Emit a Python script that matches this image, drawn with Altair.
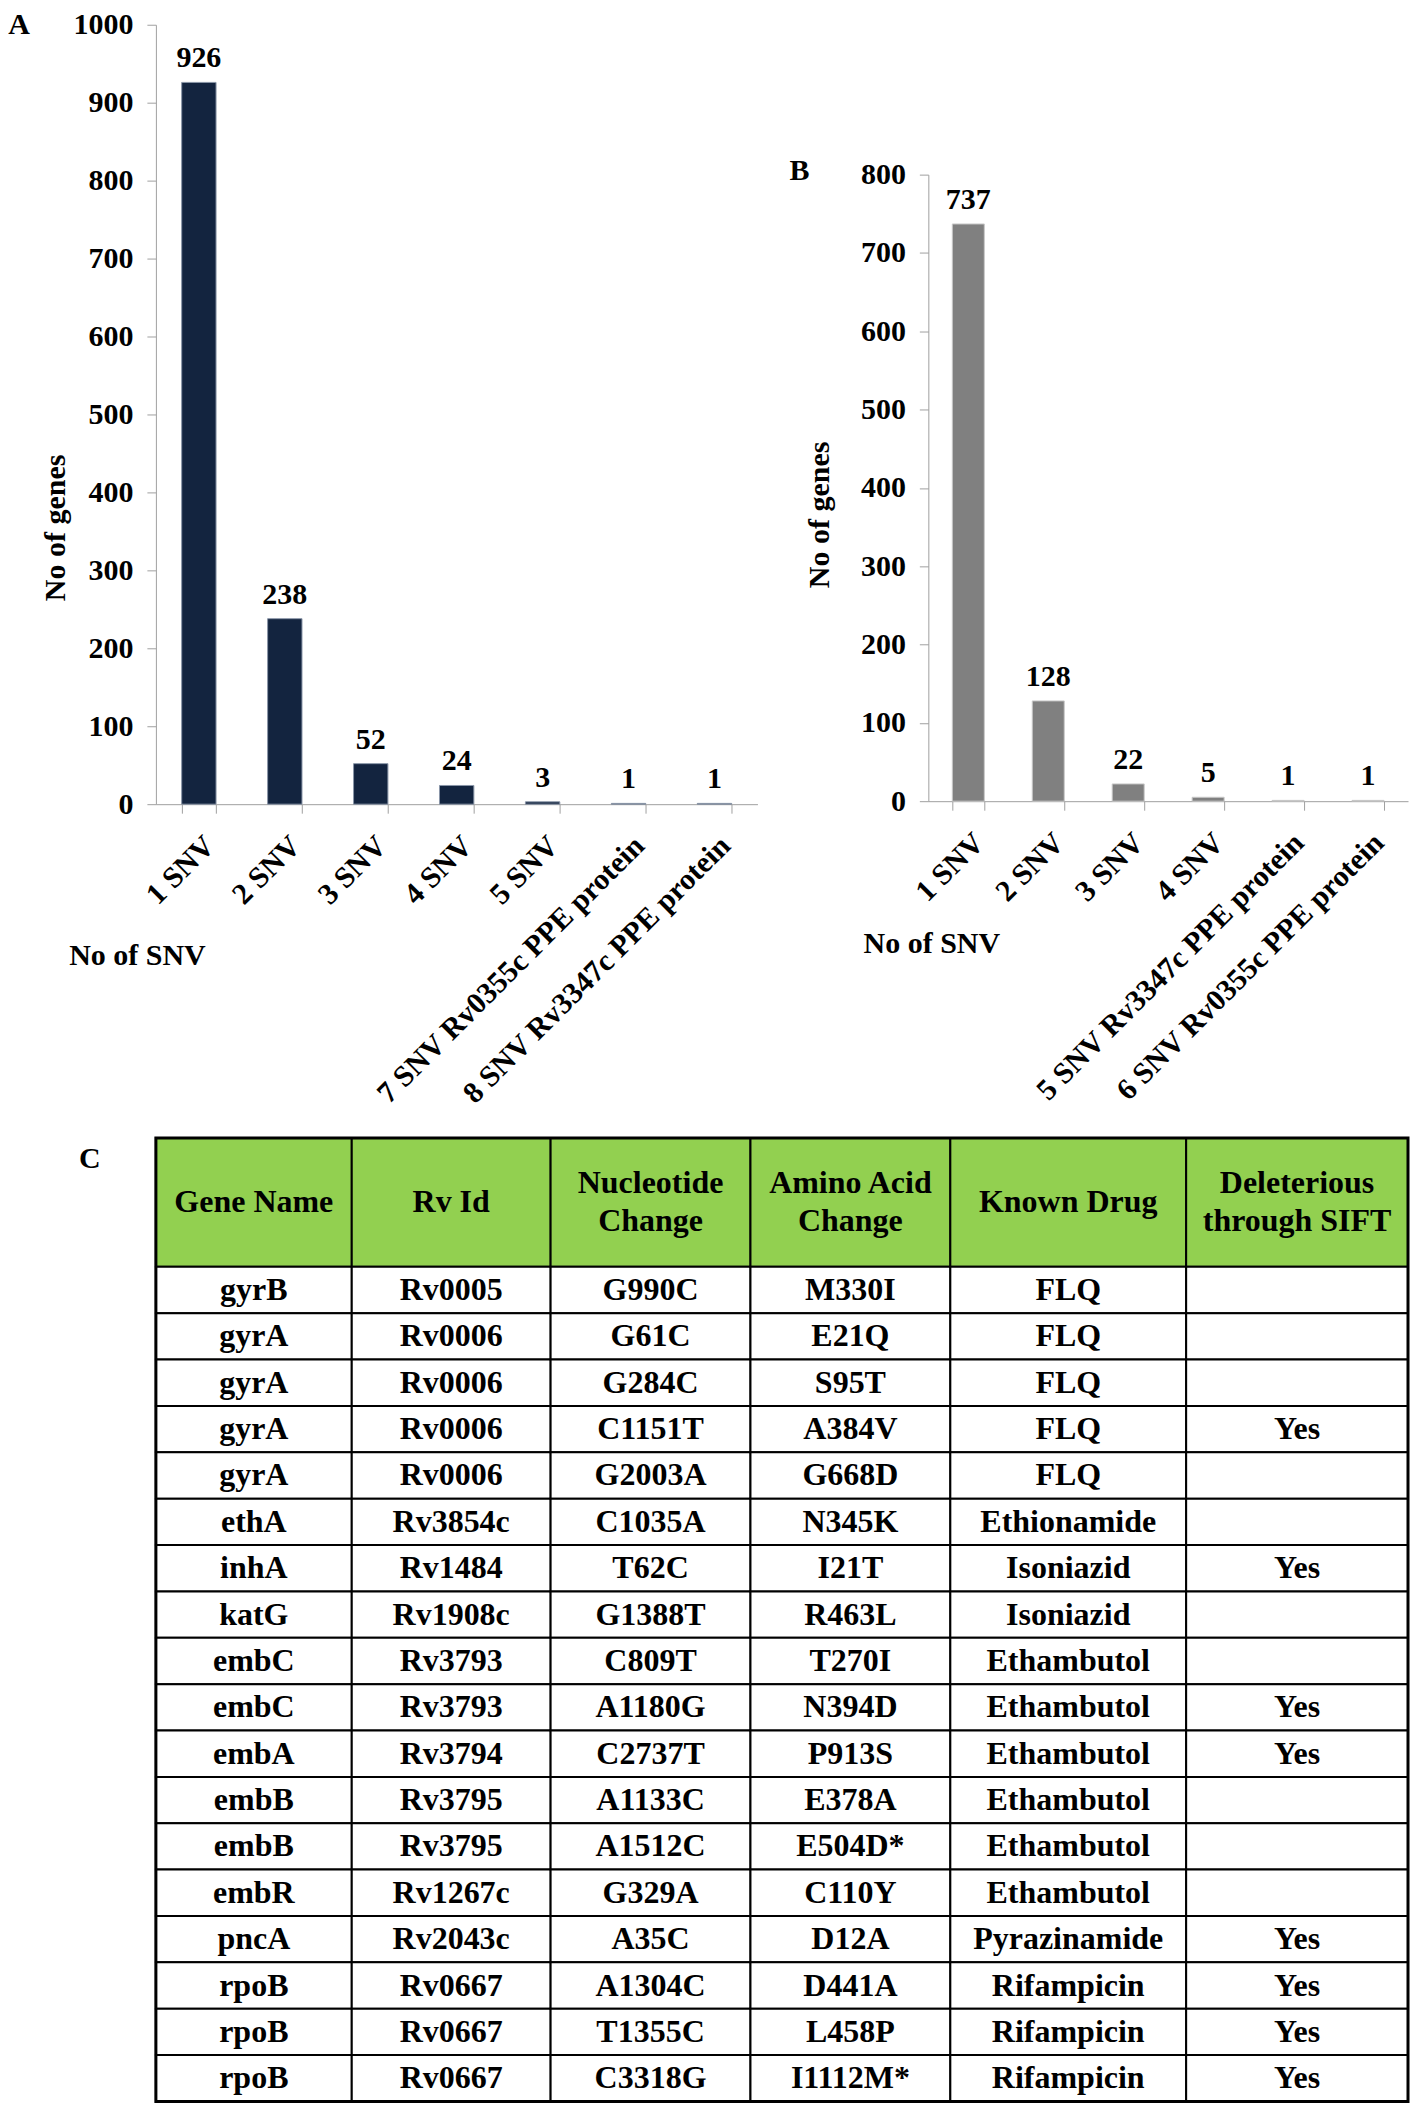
import altair as alt
import pandas as pd

FONT = "Liberation Serif"

# ---------------- data ----------------
a_categories = ["1 SNV", "2 SNV", "3 SNV", "4 SNV", "5 SNV",
                "7 SNV Rv0355c PPE protein", "8 SNV Rv3347c PPE protein"]
a_counts = [926, 238, 52, 24, 3, 1, 1]

b_categories = ["1 SNV", "2 SNV", "3 SNV", "4 SNV",
                "5 SNV Rv3347c  PPE protein", "6 SNV Rv0355c  PPE protein"]
b_counts = [737, 128, 22, 5, 1, 1]

table_header = ["Gene Name", "Rv Id", "Nucleotide\nChange", "Amino Acid\nChange",
                "Known Drug", "Deleterious\nthrough SIFT"]
gene_names = ["gyrB", "gyrA", "gyrA", "gyrA", "gyrA", "ethA", "inhA", "katG", "embC",
              "embC", "embA", "embB", "embB", "embR", "pncA", "rpoB", "rpoB", "rpoB"]
rv_ids = ["Rv0005", "Rv0006", "Rv0006", "Rv0006", "Rv0006", "Rv3854c", "Rv1484", "Rv1908c",
          "Rv3793", "Rv3793", "Rv3794", "Rv3795", "Rv3795", "Rv1267c", "Rv2043c",
          "Rv0667", "Rv0667", "Rv0667"]
nucleotide_changes = ["G990C", "G61C", "G284C", "C1151T", "G2003A", "C1035A", "T62C", "G1388T",
                      "C809T", "A1180G", "C2737T", "A1133C", "A1512C", "G329A", "A35C",
                      "A1304C", "T1355C", "C3318G"]
amino_acid_changes = ["M330I", "E21Q", "S95T", "A384V", "G668D", "N345K", "I21T", "R463L",
                      "T270I", "N394D", "P913S", "E378A", "E504D*", "C110Y", "D12A",
                      "D441A", "L458P", "I1112M*"]
known_drugs = ["FLQ", "FLQ", "FLQ", "FLQ", "FLQ", "Ethionamide", "Isoniazid", "Isoniazid",
               "Ethambutol", "Ethambutol", "Ethambutol", "Ethambutol", "Ethambutol",
               "Ethambutol", "Pyrazinamide", "Rifampicin", "Rifampicin", "Rifampicin"]
sift_deleterious = ["", "", "", "Yes", "", "", "Yes", "", "", "Yes", "Yes", "", "", "",
                    "Yes", "Yes", "Yes", "Yes"]

# ---------------- layout constants ----------------
AXIS_GRAY = "#A0A0A0"
TXT = dict(font=FONT, fontWeight="bold", color="black")


def bar_panel(cats, vals, color, edge, ymax, w, h, ytitle_x, ytitle_y, xtitle_x, xtitle_y,
              letter, lx, ly):
    df = pd.DataFrame({"cat": cats, "n": vals})
    x_axis = alt.Axis(
        title="No of SNV", labelAngle=-45, labelFont=FONT, labelFontSize=30,
        labelFontWeight="bold", labelColor="black", labelLimit=1000, labelPadding=17,
        tickBand="extent", tickSize=9, tickColor=AXIS_GRAY, domainColor=AXIS_GRAY,
        titleFont=FONT, titleFontSize=30, titleFontWeight="bold", titleColor="black",
        titleX=xtitle_x, titleY=xtitle_y, titleAlign="center", titleBaseline="middle",
        titleAngle=0,
    )
    y_axis = alt.Axis(
        values=list(range(0, ymax + 1, 100)), format="d", ticks=True, tickSize=9,
        tickColor=AXIS_GRAY, grid=False, labelPadding=14,
        labelFont=FONT, labelFontSize=30, labelFontWeight="bold", labelColor="black",
        domainColor=AXIS_GRAY, title="No of genes", titleFont=FONT, titleFontSize=30,
        titleFontWeight="bold", titleColor="black", titleX=ytitle_x, titleY=ytitle_y,
        titleAngle=270, titleAlign="center", titleBaseline="middle",
    )
    x = alt.X("cat:N", sort=cats, axis=x_axis,
              scale=alt.Scale(paddingInner=0.6, paddingOuter=0.3))
    y = alt.Y("n:Q", axis=y_axis, scale=alt.Scale(domain=[0, ymax], nice=False))
    base = alt.Chart(df)
    bars = base.mark_bar(color=color, stroke=edge, strokeWidth=1).encode(x=x, y=y)
    vals_txt = base.mark_text(fontSize=30, baseline="alphabetic", dy=-15, **TXT).encode(
        x=alt.X("cat:N", sort=cats), y="n:Q", text="n:Q")
    let = alt.Chart(pd.DataFrame({"t": [letter]})).mark_text(
        fontSize=30, align="center", baseline="top", **TXT).encode(
        text="t:N", x=alt.value(lx), y=alt.value(ly))
    return alt.layer(bars, vals_txt, let).properties(width=w, height=h)


chart_a = bar_panel(a_categories, a_counts, "#13243F", "#8a96a8", 1000, 602, 780,
                    -100, 503, -19, 151, "A", -137, -15)
chart_b = bar_panel(b_categories, b_counts, "#808080", "#c8c8c8", 800, 480, 627,
                    -109, 340, 3, 142, "B", -129, -19)

spacer = alt.Chart(pd.DataFrame({"v": [0]})).mark_point(opacity=0).encode(
    x=alt.X("v:Q", axis=None), y=alt.Y("v:Q", axis=None)).properties(width=480, height=150)

b_col = alt.vconcat(spacer, chart_b, spacing=0, bounds="flush")
top_row = alt.hconcat(chart_a, b_col, spacing=171, bounds="flush")

# ---------------- table ----------------
COL_W = [196, 199, 200, 200, 236, 222]
HEAD_H = 129
ROW_H = 46.4
LINE_H = 38
columns = [gene_names, rv_ids, nucleotide_changes, amino_acid_changes, known_drugs,
           sift_deleterious]
n_rows = len(gene_names)
TW = sum(COL_W)
TH = HEAD_H + ROW_H * n_rows

recs = []
x0 = 0
for ci, cw in enumerate(COL_W):
    n_lines = table_header[ci].count("\n") + 1
    recs.append(dict(x=x0, x2=x0 + cw, y=0, y2=HEAD_H, kind="header",
                     text=table_header[ci],
                     yc=HEAD_H / 2 - (n_lines - 1) * LINE_H / 2))
    for ri in range(n_rows):
        y0 = HEAD_H + ROW_H * ri
        recs.append(dict(x=x0, x2=x0 + cw, y=y0, y2=y0 + ROW_H, kind="body",
                         text=columns[ci][ri], yc=y0 + ROW_H / 2))
    x0 += cw
tdf = pd.DataFrame(recs)
tdf["xc"] = (tdf["x"] + tdf["x2"]) / 2

xs = alt.Scale(domain=[0, TW], nice=False, zero=False)
ys = alt.Scale(domain=[0, TH], nice=False, zero=False, reverse=True)
tbase = alt.Chart(tdf)
cells = tbase.mark_rect(stroke="black", strokeWidth=2).encode(
    x=alt.X("x:Q", scale=xs, axis=None), x2="x2:Q",
    y=alt.Y("y:Q", scale=ys, axis=None), y2="y2:Q",
    fill=alt.Fill("kind:N", scale=alt.Scale(domain=["header", "body"],
                                             range=["#92D050", "#FFFFFF"]), legend=None),
)
cell_txt = tbase.mark_text(fontSize=32, lineBreak="\n", lineHeight=LINE_H, align="center",
                           baseline="middle", **TXT).encode(
    x=alt.X("xc:Q", scale=xs, axis=None), y=alt.Y("yc:Q", scale=ys, axis=None),
    text="text:N")
border = alt.Chart(pd.DataFrame({"x": [0], "x2": [TW], "y": [0], "y2": [TH]})).mark_rect(
    fill=None, stroke="black", strokeWidth=3).encode(
    x=alt.X("x:Q", scale=xs, axis=None), x2="x2:Q",
    y=alt.Y("y:Q", scale=ys, axis=None), y2="y2:Q")
c_letter = alt.Chart(pd.DataFrame({"t": ["C"]})).mark_text(
    fontSize=30, align="center", baseline="middle", **TXT).encode(
    text="t:N", x=alt.value(-66), y=alt.value(21))
table = alt.layer(cells, cell_txt, border, c_letter).properties(width=TW, height=TH)

# the nested top row counts as zero height in a flush layout, so the spacing
# carries the top row's plot height (780) plus the gap to the table (334)
chart = alt.vconcat(top_row, table, spacing=1114, bounds="flush").properties(
    padding={"top": 1, "left": 0, "right": 0, "bottom": 0},
    background="white").configure_view(stroke=None)

chart.save("out.html", embed_options={"renderer": "svg", "actions": False})
